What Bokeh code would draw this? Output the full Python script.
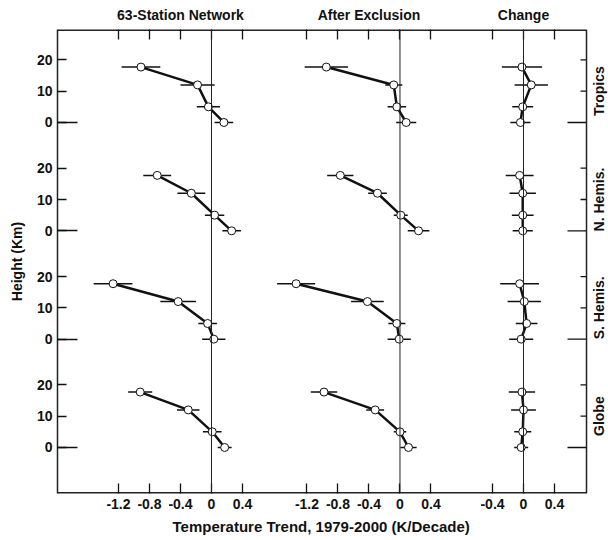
import math
from bokeh.plotting import figure
from bokeh.models import (FixedTicker, LinearAxis, Range1d, Span, Title,
                          CustomJSTickFormatter, ColumnDataSource)
from bokeh.core.properties import value
from bokeh.embed import file_html
from bokeh.resources import INLINE

# ---------------- data ----------------
columns = ["63-Station Network", "After Exclusion", "Change"]
regions = ["Tropics", "N. Hemis.", "S. Hemis.", "Globe"]
heights = [0, 5, 12, 17.7]          # km, bottom -> top
x_ticks_main = [-1.2, -0.8, -0.4, 0, 0.4]
x_ticks_change = [-0.4, 0, 0.4]
y_ticks = [0, 10, 20]

# trends (K/decade) at heights 0, 5, 12, 17.7 km
tropics_net = [0.16, -0.04, -0.18, -0.91]
tropics_net_err = [0.12, 0.15, 0.22, 0.25]
tropics_exc = [0.08, -0.04, -0.08, -0.95]
tropics_exc_err = [0.13, 0.12, 0.11, 0.28]
tropics_chg = [-0.04, -0.01, 0.10, -0.02]
tropics_chg_err = [0.13, 0.135, 0.215, 0.26]

nh_net = [0.26, 0.04, -0.26, -0.70]
nh_net_err = [0.12, 0.125, 0.18, 0.18]
nh_exc = [0.24, 0.01, -0.29, -0.77]
nh_exc_err = [0.14, 0.09, 0.12, 0.17]
nh_chg = [-0.01, -0.01, -0.01, -0.05]
nh_chg_err = [0.13, 0.14, 0.17, 0.18]

sh_net = [0.03, -0.05, -0.43, -1.27]
sh_net_err = [0.15, 0.12, 0.23, 0.25]
sh_exc = [-0.01, -0.04, -0.42, -1.34]
sh_exc_err = [0.15, 0.11, 0.21, 0.245]
sh_chg = [-0.03, 0.04, 0.01, -0.05]
sh_chg_err = [0.155, 0.14, 0.215, 0.25]

globe_net = [0.17, 0.01, -0.30, -0.92]
globe_net_err = [0.09, 0.12, 0.145, 0.155]
globe_exc = [0.11, 0.00, -0.32, -0.98]
globe_exc_err = [0.105, 0.08, 0.115, 0.17]
globe_chg = [-0.03, -0.01, 0.00, -0.02]
globe_chg_err = [0.09, 0.11, 0.16, 0.17]

series = {
    "Tropics": [(tropics_net, tropics_net_err), (tropics_exc, tropics_exc_err), (tropics_chg, tropics_chg_err)],
    "N. Hemis.": [(nh_net, nh_net_err), (nh_exc, nh_exc_err), (nh_chg, nh_chg_err)],
    "S. Hemis.": [(sh_net, sh_net_err), (sh_exc, sh_exc_err), (sh_chg, sh_chg_err)],
    "Globe": [(globe_net, globe_net_err), (globe_exc, globe_exc_err), (globe_chg, globe_chg_err)],
}

# ---------------- layout ----------------
panel_offsets = [0.0, 2.432, 4.026]       # x offset of each column's zero
title_at = [-0.4, -0.4, 0.0]              # top tick (relative) under each column title
row_offsets = {"Tropics": 103.8, "N. Hemis.": 69.2, "S. Hemis.": 34.6, "Globe": 0.0}
PX = 77.5                                  # pixels per K/decade
X0 = -1.987                                # left frame edge
XB = 4.839                                 # visible right border of the box
X1 = X0 + (608 - 57) / PX                  # canvas right edge (labels live here)
Y0, Y1 = -14.7, 133.5

FONT = "Liberation Sans"
INK = "#111111"

p = figure(width=608, height=540, title=None, toolbar_location=None,
           output_backend="svg",
           x_range=Range1d(X0, X1), y_range=Range1d(Y0, Y1),
           min_border_left=57, min_border_right=0,
           min_border_top=29, min_border_bottom=47)
p.grid.visible = False
p.outline_line_color = None
p.background_fill_color = "white"
p.border_fill_color = "white"

# box: right edge, top & bottom edges (left edge = y-axis line)
p.add_layout(Span(location=XB, dimension="height", line_color="#222222", line_width=1.5))
p.segment(x0=[X0, X0], x1=[XB, XB], y0=[Y0, Y1], y1=[Y0, Y1],
          line_color="#222222", line_width=3)

# zero lines
for off in panel_offsets:
    p.add_layout(Span(location=off, dimension="height", line_color="#222222", line_width=1))

# data marks
for reg in regions:
    yo = row_offsets[reg]
    ys = [yo + h for h in heights]
    for pi_, (vals, errs) in enumerate(series[reg]):
        off = panel_offsets[pi_]
        xs = [off + v for v in vals]
        src = ColumnDataSource(dict(
            x=xs, y=ys,
            x0=[off + v - e for v, e in zip(vals, errs)],
            x1=[off + v + e for v, e in zip(vals, errs)]))
        p.segment(x0="x0", x1="x1", y0="y", y1="y", source=src,
                  line_color=INK, line_width=1.5)
        p.line(x="x", y="y", source=src, line_color=INK, line_width=2.5)
        p.scatter(x="x", y="y", source=src, size=8, marker="circle",
                  fill_color="white", line_color=INK, line_width=1)

# ---------------- axes ----------------
all_x_ticks = [panel_offsets[0] + v for v in x_ticks_main] + \
              [panel_offsets[1] + v for v in x_ticks_main] + \
              [panel_offsets[2] + v for v in x_ticks_change]

xfmt = CustomJSTickFormatter(args=dict(offs=panel_offsets), code="""
let best = offs[0];
for (const o of offs) { if (Math.abs(tick - o) < Math.abs(tick - best)) best = o; }
const v = Math.round((tick - best) * 10) / 10;
return v === 0 ? "0" : v.toFixed(1);
""")

title_ticks = [off + t for off, t in zip(panel_offsets, title_at)]
top_fmt = CustomJSTickFormatter(args=dict(pos=title_ticks, names=columns), code="""
for (let i = 0; i < pos.length; i++) { if (Math.abs(tick - pos[i]) < 1e-6) return names[i]; }
return "";
""")

roffs = [row_offsets[r] for r in regions]
all_y_ticks = [ro + t for ro in roffs for t in y_ticks]
zero_y_ticks = [ro for ro in roffs]
yfmt = CustomJSTickFormatter(args=dict(offs=roffs), code="""
let best = -1e9;
for (const o of offs) { if (o <= tick + 1e-6 && o > best) best = o; }
return String(Math.round(tick - best));
""")

def style(ax):
    ax.axis_line_color = None
    ax.major_tick_line_color = INK
    ax.major_tick_line_width = 1.3
    ax.minor_tick_line_color = INK
    ax.minor_tick_line_width = 1.3
    ax.major_tick_out = 0
    ax.minor_tick_out = 0
    ax.major_label_text_font = FONT
    ax.major_label_text_font_style = "bold"
    ax.major_label_text_font_size = "14px"
    ax.major_label_text_color = INK
    ax.axis_label_text_font = FONT
    ax.axis_label_text_font_style = "bold"
    ax.axis_label_text_font_size = "14px"
    ax.axis_label_text_color = INK

xb = p.xaxis[0]
xb.ticker = FixedTicker(ticks=all_x_ticks)
xb.formatter = xfmt
style(xb)
xb.major_tick_in = 10
xb.minor_tick_line_color = None
xb.major_label_standoff = 5

# bottom title, placed under the visible box (not the wider canvas frame)
p.add_layout(Title(text="Temperature Trend, 1979-2000 (K/Decade)", align="left",
                   offset=115, standoff=8, text_font=FONT, text_font_style="bold",
                   text_font_size="15px", text_color=INK), "below")

xt = LinearAxis(ticker=FixedTicker(ticks=all_x_ticks), formatter=top_fmt)
style(xt)
xt.major_tick_in = 10
xt.minor_tick_line_color = None
xt.major_label_standoff = 7
p.add_layout(xt, "above")

yl = p.yaxis[0]
yl.ticker = FixedTicker(ticks=all_y_ticks, minor_ticks=zero_y_ticks)
yl.formatter = yfmt
style(yl)
yl.axis_line_color = "#222222"
yl.axis_line_width = 1.5
yl.major_tick_in = 9
yl.minor_tick_in = 20
yl.major_label_standoff = 5
yl.axis_label = "Height (Km)"
yl.axis_label_standoff = 9

# right-hand inward ticks on the box edge
short_len = 6 / PX
long_len = 19 / PX
tick_y = all_y_ticks
tick_x0 = [XB - (long_len if any(abs(t - z) < 1e-9 for z in zero_y_ticks) else short_len) for t in tick_y]
p.segment(x0=tick_x0, x1=[XB] * len(tick_y), y0=tick_y, y1=tick_y,
          line_color=INK, line_width=1.3)

# region names, rotated, outside the box on the right
p.text(x=[XB + 12 / PX] * len(regions), y=[ro + 10 for ro in roffs], text=regions,
       angle=math.pi / 2, text_align="center", text_baseline="middle",
       text_font=value(FONT), text_font_style="bold", text_font_size="14px",
       text_color=INK)

open("out.html", "w").write(file_html(p, INLINE))
